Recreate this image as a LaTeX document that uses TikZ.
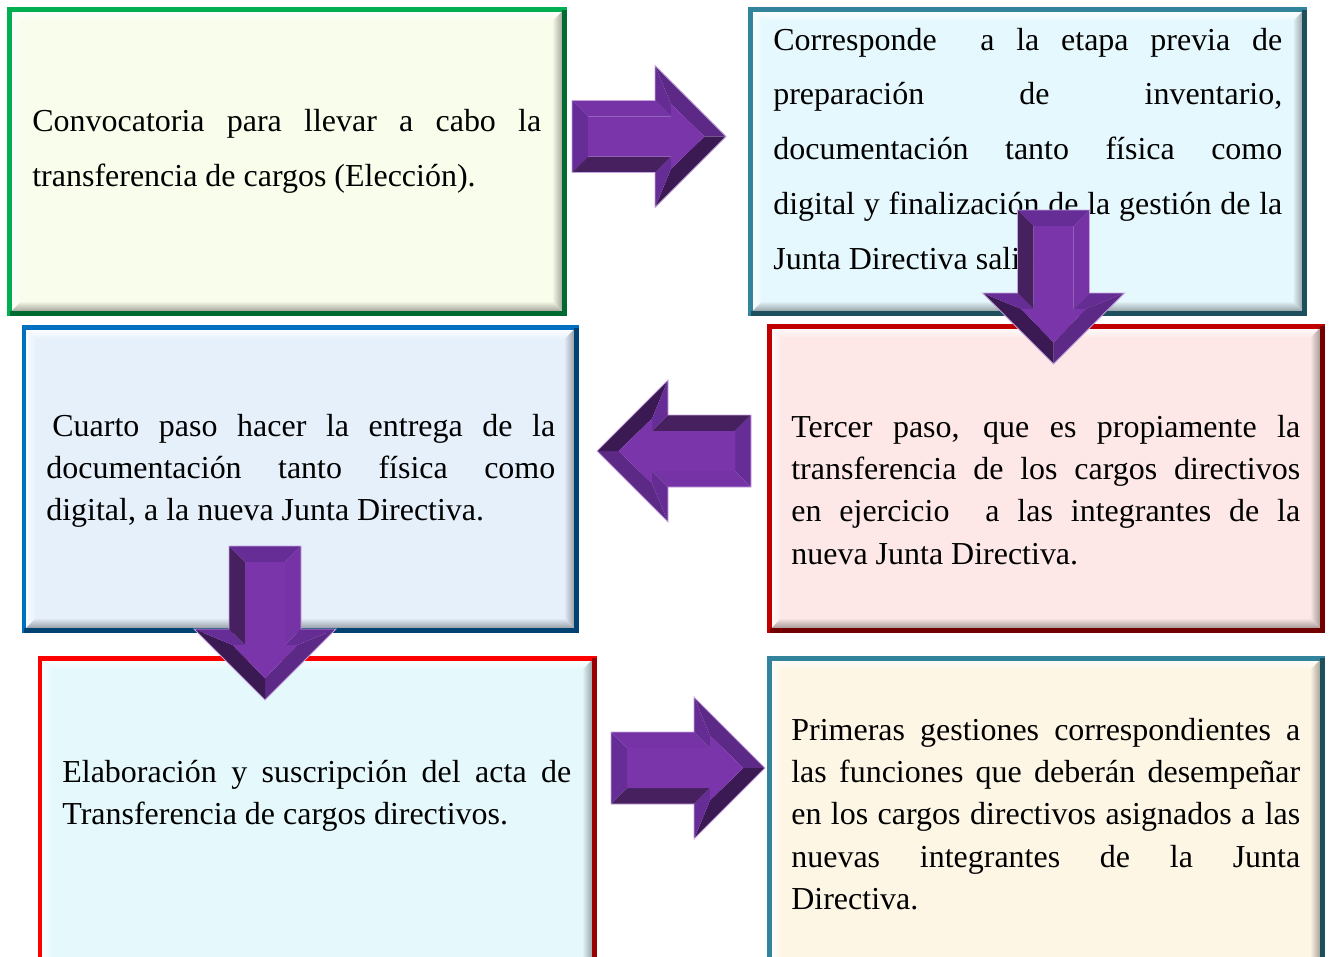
\documentclass[tikz,border=0pt]{standalone}
\usepackage{fontspec}
\setmainfont{Liberation Serif}
\usepackage{tikz}

\definecolor{convedge}{HTML}{00B050}
\definecolor{convfill}{HTML}{F9FDEB}
\definecolor{prepedge}{HTML}{31849B}
\definecolor{prepfill}{HTML}{E5F8FD}
\definecolor{entregaedge}{HTML}{0070C0}
\definecolor{entregafill}{HTML}{E6F0FB}
\definecolor{tercedge}{HTML}{C00000}
\definecolor{tercfill}{HTML}{FDE8E7}
\definecolor{actaedge}{HTML}{FF0000}
\definecolor{actafill}{HTML}{E5F9FD}
\definecolor{gestedge}{HTML}{31849B}
\definecolor{gestfill}{HTML}{FEF6E5}
\definecolor{arrowface}{HTML}{7A35AA}
\definecolor{arrowtop}{HTML}{7633A6}
\definecolor{arrowside}{HTML}{672D96}
\definecolor{arrowback}{HTML}{652D93}
\definecolor{arrowdiag}{HTML}{5C2986}
\definecolor{arrowdark}{HTML}{3B1A53}
\definecolor{arrowbottom}{HTML}{47215F}
\definecolor{arrowedge}{HTML}{C4A3DE}

\begin{document}
\begin{tikzpicture}[x=0.02cm, y=-0.02cm]
\tikzstyle{every node} = [inner sep=0pt, anchor=base west, text width=10.18cm, align=justify]
\tikzstyle{wide} = [font=\fontsize{18.2}{31.3}\selectfont]
\tikzstyle{tight} = [font=\fontsize{18.2}{24.1}\selectfont]
\clip (0,0) rectangle (1329,957);

% bevelled panels
\foreach \xa/\ya/\xb/\yb/\bc/\fc in {9.5/9.5/564/313/convedge/convfill,
  750.5/9.5/1304.5/313/prepedge/prepfill,
  24/327.5/576/630/entregaedge/entregafill,
  769.5/326/1322/630/tercedge/tercfill,
  40/658/594/975/actaedge/actafill,
  769.5/658/1322/975/gestedge/gestfill}
{
  \fill[\fc] (\xa,\ya) rectangle (\xb,\yb);
  \shade[top color=white, bottom color=\fc] (\xa,\ya) -- (\xb,\ya) -- (\xb-12,\ya+12) -- (\xa+12,\ya+12) -- cycle;
  \shade[left color=white, right color=\fc] (\xa,\ya) -- (\xa+12,\ya+12) -- (\xa+12,\yb-12) -- (\xa,\yb) -- cycle;
  \shade[top color=\fc, bottom color=black!40!\fc] (\xa,\yb) -- (\xa+12,\yb-12) -- (\xb-12,\yb-12) -- (\xb,\yb) -- cycle;
  \shade[left color=\fc, right color=black!40!\fc] (\xb,\ya) -- (\xb,\yb) -- (\xb-12,\yb-12) -- (\xb-12,\ya+12) -- cycle;
  \draw[\bc, line width=1mm] (\xa,\ya) rectangle (\xb,\yb);
  \draw[\bc!60!black, line width=1mm] (\xb,\ya) -- (\xb,\yb) -- (\xa,\yb);
}

\node[wide] (conv) at (32,131.7) {Convocatoria para llevar a cabo la\linebreak transferencia de cargos (Elección).};
\node[wide] (prep) at (773,50) {Corresponde\ \ a la etapa previa de\linebreak preparación de inventario,\linebreak documentación tanto física como\linebreak digital y finalización de la gestión de la\linebreak Junta Directiva saliente.};
\node[tight] (entrega) at (46,436) {\hspace*{0.12cm}Cuarto paso hacer la entrega de la\linebreak documentación tanto física como\linebreak digital, a la nueva Junta Directiva.};
\node[tight] (tercer) at (791,437) {Tercer paso, que es propiamente la\linebreak transferencia de los cargos directivos\linebreak en ejercicio\ \ a las integrantes de la\linebreak nueva Junta Directiva.};
\node[tight] (acta) at (62,782) {Elaboración y suscripción del acta de\linebreak Transferencia de cargos directivos.};
\node[tight] (gest) at (791,740) {Primeras gestiones correspondientes a\linebreak las funciones que deberán desempeñar\linebreak en los cargos directivos asignados a las\linebreak nuevas integrantes de la Junta\linebreak Directiva.};

% bevelled block arrows
\foreach \x/\y/\r in {572/136.5/0, 1053.5/210/-90, 751/451/180, 265/546/-90, 611/768/0}
{
\begin{scope}[shift={(\x,\y)}, rotate=\r]
  \fill[arrowtop] (0,-36) -- (83,-36) -- (99,-20) -- (16,-20) -- cycle;
  \fill[arrowside] (0,36) -- (0,-36) -- (16,-20) -- (16,20) -- cycle;
  \fill[arrowback] (83,-36) -- (83,-71) -- (99,-32.4) -- (99,-20) -- cycle;
  \fill[arrowdiag] (83,-71) -- (154,0) -- (132.4,0) -- (99,-32.4) -- cycle;
  \fill[arrowdark] (154,0) -- (83,71) -- (99,32.4) -- (132.4,0) -- cycle;
  \fill[arrowside] (83,71) -- (83,36) -- (99,20) -- (99,32.4) -- cycle;
  \fill[arrowbottom] (83,36) -- (0,36) -- (16,20) -- (99,20) -- cycle;
  \fill[arrowface] (16,-20) -- (99,-20) -- (99,-32.4) -- (132.4,0) -- (99,32.4) -- (99,20) -- (16,20) -- cycle;
  \draw[arrowedge, line width=0.15mm] (0,-36) -- (83,-36) -- (83,-71) -- (154,0) -- (83,71) -- (83,36) -- (0,36) -- cycle;
\end{scope}
}
\end{tikzpicture}
\end{document}
